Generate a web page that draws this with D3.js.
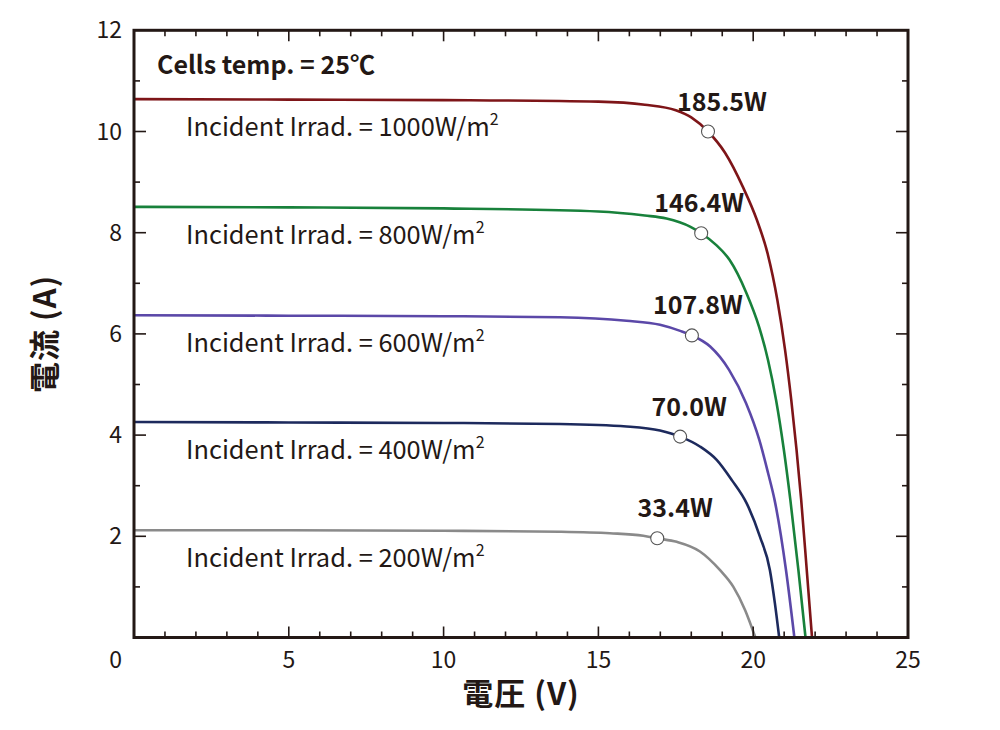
<!DOCTYPE html>
<html>
<head>
<meta charset="utf-8">
<script src="https://cdn.jsdelivr.net/npm/d3@7/dist/d3.min.js"></script>
<style>
  html, body { margin: 0; padding: 0; background: #fff; }
  text { font-family: "Noto Sans CJK JP", "Noto Sans", sans-serif; fill: #231815; }
</style>
</head>
<body>
<svg id="chart" width="1000" height="730"></svg>
<script>
// ---- Data ----
const irradiances = [1000, 800, 600, 400, 200];
const powerLabels = ["185.5W", "146.4W", "107.8W", "70.0W", "33.4W"];

const v1000 = [0, 5, 10, 15, 16.5, 17.5, 18.0, 18.54, 19.09, 19.67, 20.12, 20.46, 20.78, 21.03, 21.23, 21.40, 21.55, 21.73, 21.90];
const i1000 = [10.64, 10.63, 10.62, 10.59, 10.53, 10.42, 10.28, 10.0, 9.58, 8.90, 8.25, 7.60, 6.67, 5.68, 4.69, 3.71, 2.72, 1.33, 0];

const v800 = [0, 5, 10, 15, 16.5, 17.2, 17.96, 18.32, 18.8, 19.24, 19.78, 20.19, 20.48, 20.74, 20.99, 21.20, 21.46, 21.69];
const i800 = [8.51, 8.50, 8.48, 8.42, 8.34, 8.28, 8.12, 7.99, 7.76, 7.46, 6.81, 6.14, 5.48, 4.69, 3.71, 2.72, 1.33, 0];

const v600 = [0, 5, 10, 13.76, 15.91, 16.99, 17.64, 18.02, 18.61, 19.22, 19.77, 20.20, 20.48, 20.69, 21.06, 21.33];
const i600 = [6.37, 6.36, 6.35, 6.33, 6.26, 6.18, 6.06, 5.97, 5.75, 5.29, 4.63, 3.90, 3.25, 2.72, 1.33, 0];

const v400 = [0, 5, 10, 13.76, 15.91, 16.99, 17.64, 18.29, 18.82, 19.31, 19.79, 20.22, 20.54, 20.7, 20.84];
const i400 = [4.26, 4.25, 4.24, 4.22, 4.17, 4.09, 3.97, 3.77, 3.51, 3.11, 2.65, 1.99, 1.33, 0.68, 0];

const v200 = [0, 5, 10, 13.76, 15.37, 16.45, 16.9, 17.53, 18.28, 18.93, 19.36, 19.74, 20.07];
const i200 = [2.12, 2.12, 2.11, 2.09, 2.06, 2.01, 1.96, 1.89, 1.70, 1.33, 1.0, 0.54, 0];

const mppV = [18.54, 18.32, 18.02, 17.64, 16.9];
const mppI = [10.0, 7.99, 5.97, 3.97, 1.96];

const xTicks = [5, 10, 15, 20, 25];
const yTicks = [2, 4, 6, 8, 10, 12];

const seriesV = [v1000, v800, v600, v400, v200];
const seriesI = [i1000, i800, i600, i400, i200];

// ---- Styles ----
const colors = ["#7e1518", "#18813b", "#5b48a8", "#1d2a5d", "#8a8a8a"];
const labelDx = [14, -2, 6, 9, 18];
const ink = "#231815";

const svg = d3.select("#chart");
const x = d3.scaleLinear().domain([0, 25]).range([134, 908]);
const y = d3.scaleLinear().domain([0, 12]).range([637.5, 30.3]);

// curves
const line = d3.line().x(d => x(d[0])).y(d => y(d[1])).curve(d3.curveMonotoneX);
seriesV.forEach((vs, k) => {
  const pts = vs.map((v, j) => [v, seriesI[k][j]]);
  svg.append("path").attr("d", line(pts)).attr("fill", "none")
    .attr("stroke", colors[k]).attr("stroke-width", 2.6);
});

// irradiance labels
irradiances.forEach((ir, k) => {
  const t = svg.append("text").attr("x", 186).attr("y", y(seriesI[k][0]) + 37)
    .attr("font-size", 25.4);
  t.append("tspan").text("Incident Irrad. = " + ir + "W/m");
  t.append("tspan").text("2").attr("font-size", 16).attr("dy", -11);
});

// MPP markers + labels
mppV.forEach((v, k) => {
  svg.append("circle").attr("cx", x(v)).attr("cy", y(mppI[k])).attr("r", 6.5)
    .attr("fill", "#fff").attr("stroke", "#555").attr("stroke-width", 1.1);
  svg.append("text").attr("x", x(v) + labelDx[k]).attr("y", y(mppI[k]) - 21)
    .attr("text-anchor", "middle").attr("font-size", 25).attr("font-weight", "bold")
    .text(powerLabels[k]);
});

// frame ticks (inside, all 4 sides)
const tg = svg.append("g").attr("stroke", ink).attr("stroke-width", 1.6);
d3.range(1, 25).forEach(v => {
  const len = v % 5 === 0 ? 11 : 6;
  tg.append("line").attr("x1", x(v)).attr("x2", x(v)).attr("y1", y(0)).attr("y2", y(0) - len);
  tg.append("line").attr("x1", x(v)).attr("x2", x(v)).attr("y1", y(12)).attr("y2", y(12) + len);
});
d3.range(1, 12).forEach(v => {
  const len = v % 2 === 0 ? 12 : 6;
  tg.append("line").attr("y1", y(v)).attr("y2", y(v)).attr("x1", x(0)).attr("x2", x(0) + len);
  tg.append("line").attr("y1", y(v)).attr("y2", y(v)).attr("x1", x(25)).attr("x2", x(25) - len);
});
svg.append("rect").attr("x", x(0)).attr("y", y(12)).attr("width", x(25) - x(0))
  .attr("height", y(0) - y(12)).attr("fill", "none").attr("stroke", ink).attr("stroke-width", 3);

// tick labels
xTicks.forEach(v => {
  svg.append("text").attr("x", x(v)).attr("y", y(0) + 30).attr("text-anchor", "middle")
    .attr("font-size", 23).text(v);
});
svg.append("text").attr("x", x(0) - 12).attr("y", y(0) + 30).attr("text-anchor", "end")
  .attr("font-size", 23).text("0");
yTicks.forEach(v => {
  svg.append("text").attr("x", x(0) - 12).attr("y", y(v) + 8).attr("text-anchor", "end")
    .attr("font-size", 23).text(v);
});

// title inside
svg.append("text").attr("x", 157).attr("y", 74).attr("font-size", 25)
  .attr("font-weight", "bold").text("Cells temp. = 25℃");

// axis titles
svg.append("text").attr("x", (x(0) + x(25)) / 2).attr("y", 705).attr("text-anchor", "middle")
  .attr("font-size", 31).attr("font-weight", "bold").attr("letter-spacing", 1)
  .text("電圧 (V)");
svg.append("text").attr("transform", `translate(56, ${(y(0) + y(12)) / 2}) rotate(-90)`)
  .attr("text-anchor", "middle").attr("font-size", 31).attr("font-weight", "bold")
  .attr("letter-spacing", 1).text("電流 (A)");
</script>
</body>
</html>
